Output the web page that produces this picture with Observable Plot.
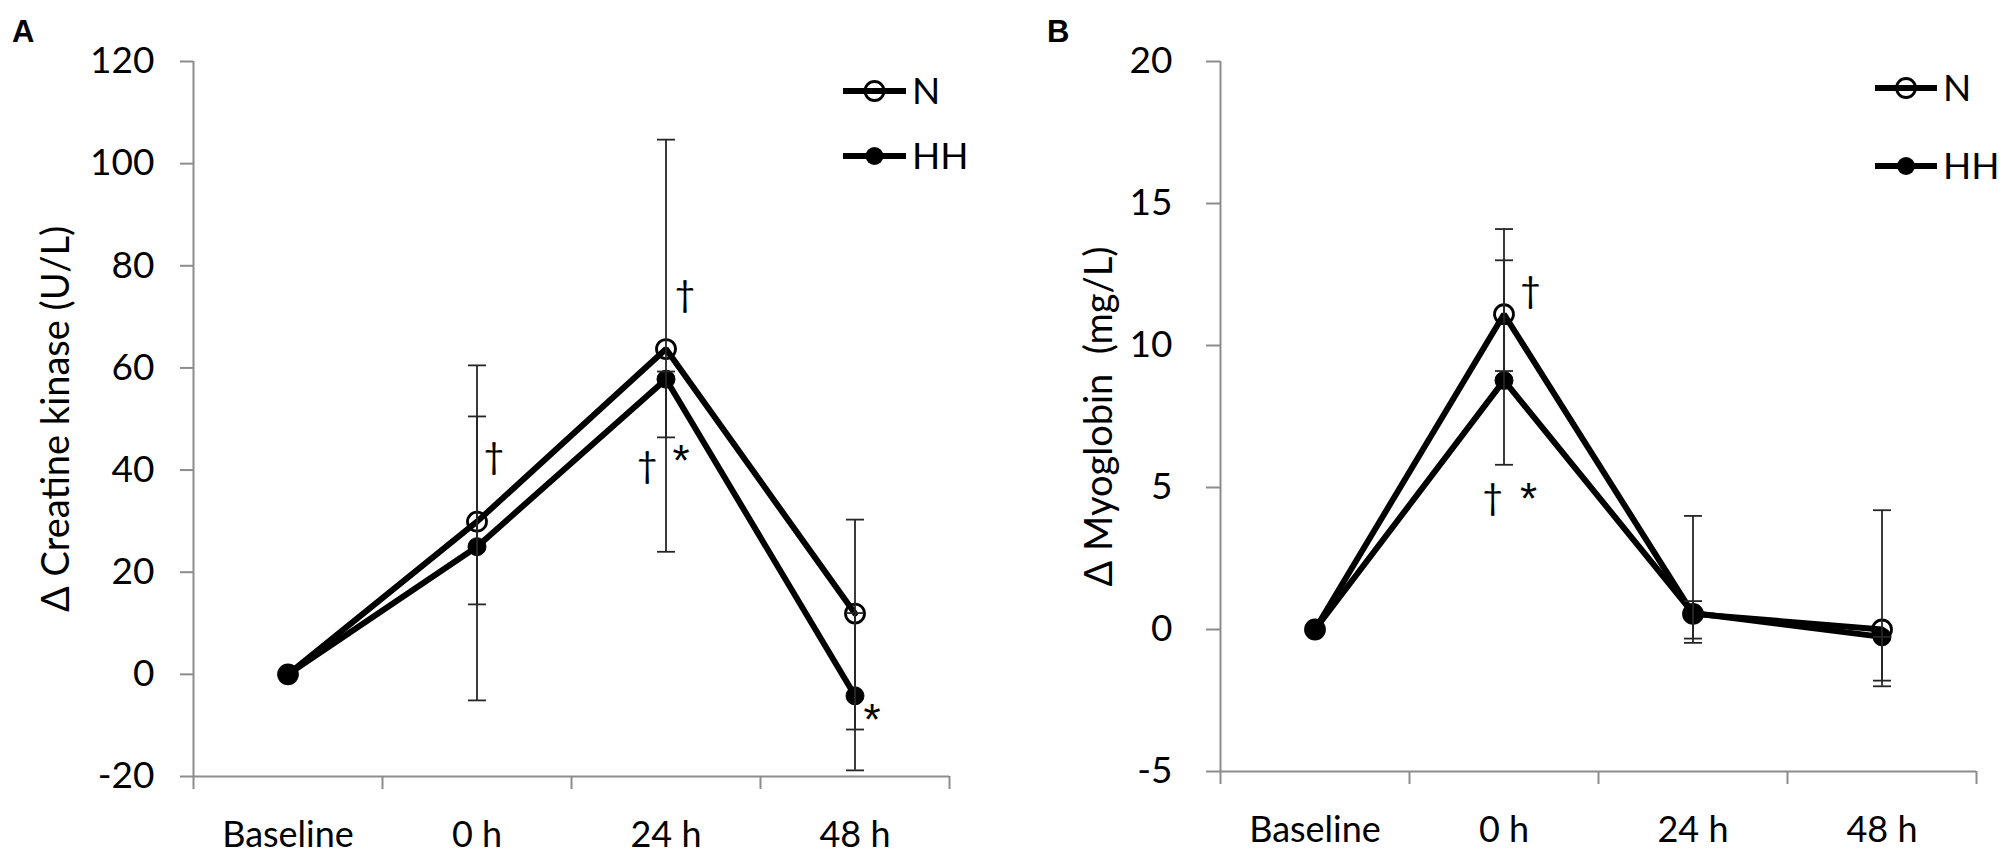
<!DOCTYPE html>
<html>
<head>
<meta charset="utf-8">
<script src="https://cdn.jsdelivr.net/npm/d3@7"></script>
<script src="https://cdn.jsdelivr.net/npm/@observablehq/plot@0.6"></script>
<style>
  html, body { margin: 0; padding: 0; background: #fff; }
  #wrap { display: flex; width: 2000px; height: 858px; }
</style>
</head>
<body>
<div id="wrap"></div>
<script>
// ---------- data ----------
const categories = ["Baseline", "0 h", "24 h", "48 h"];
const groups = ["N", "HH"];

// Panel A: Δ Creatine kinase (U/L)
const ckN = [0, 29.9, 63.7, 11.9];
const ckHH = [0, 25.0, 57.8, -4.2];
const ckNLow = [null, 13.7, 24.0, -10.8];
const ckNHigh = [null, 60.5, 104.7, 30.3];
const ckHHLow = [null, -5.1, 46.4, -18.8];
const ckHHHigh = [null, 50.5, 59.3, 12.0];
const ckTicks = [-20, 0, 20, 40, 60, 80, 100, 120];
const ckSig = [
  {label: "†", t: 1.09, v: 42.5},
  {label: "†", t: 2.10, v: 74.1},
  {label: "†", t: 1.90, v: 40.8},
  {label: "*", t: 2.08, v: 43.7},
  {label: "*", t: 3.09, v: -7.0}
];

// Panel B: Δ Myoglobin (mg/L)
const mbN = [0, 11.1, 0.55, 0.0];
const mbHH = [0, 8.77, 0.58, -0.26];
const mbNLow = [null, 9.1, -0.47, -2.0];
const mbNHigh = [null, 14.1, 4.0, 4.2];
const mbHHLow = [null, 5.8, -0.32, -1.8];
const mbHHHigh = [null, 13.0, 1.0, -0.26];
const mbTicks = [-5, 0, 5, 10, 15, 20];
const mbSig = [
  {label: "†", t: 1.14, v: 11.9},
  {label: "†", t: 0.94, v: 4.6},
  {label: "*", t: 1.13, v: 4.96}
];

// ---------- helpers ----------
const FONT = "Lato, 'Open Sans', sans-serif";
const capSymbol = {draw(ctx) { ctx.moveTo(-9, 0); ctx.lineTo(9, 0); }};

function rows(n, hh) {
  return categories.flatMap((c, i) => [
    {t: i, v: n[i], g: "N"},
    {t: i, v: hh[i], g: "HH"}
  ]);
}
function errRows(nl, nh, hl, hh) {
  const out = [];
  categories.forEach((c, i) => {
    if (nl[i] != null) out.push({t: i, lo: nl[i], hi: nh[i]});
    if (hl[i] != null) out.push({t: i, lo: hl[i], hi: hh[i]});
  });
  return out;
}

function panel(cfg) {
  const pts = rows(cfg.n, cfg.hh);
  const errs = errRows(cfg.nl, cfg.nh, cfg.hl, cfg.hhh);
  const yMin = cfg.ticks[0], yMax = cfg.ticks[cfg.ticks.length - 1];
  const axisGray = "#8c8c8c";
  const svg = Plot.plot({
    width: 1000,
    height: 858,
    marginLeft: cfg.ml,
    marginRight: cfg.mr,
    marginTop: cfg.mt,
    marginBottom: cfg.mb,
    style: {fontFamily: FONT, background: "white", color: "black", overflow: "visible"},
    x: {type: "linear", domain: [-0.5, categories.length - 0.5], axis: null},
    y: {domain: [yMin, yMax], axis: null},
    marks: [
      // axes lines
      Plot.ruleX([-0.5], {y1: yMin, y2: yMax, stroke: axisGray, strokeWidth: 2}),
      Plot.ruleY([yMin], {stroke: axisGray, strokeWidth: 2}),
      Plot.axisY({ticks: cfg.ticks, label: null, tickSize: cfg.tickSize, tickPadding: cfg.tickPad, stroke: axisGray, strokeWidth: 2, fill: "black", fontSize: 37, tickFormat: d => String(d)}),
      Plot.axisX({ticks: d3.range(categories.length + 1).map(i => i - 0.5), label: null, tickSize: 13, stroke: axisGray, strokeWidth: 2, tickFormat: () => ""}),
      Plot.axisX({ticks: d3.range(categories.length), label: null, tickSize: 0, tickPadding: 45, fill: "black", fontSize: 36, tickFormat: i => categories[i]}),
      // y title
      Plot.text([cfg.title], {frameAnchor: "left", rotate: -90, dx: cfg.titleDx, fontSize: 38, textAnchor: "middle", lineAnchor: "middle", text: d => d, fill: "black"}),
      // series lines
      Plot.line(pts, {x: "t", y: "v", z: "g", stroke: "black", strokeWidth: 6, strokeLinejoin: "miter"}),
      // markers
      Plot.dot(pts.filter(d => d.g === "HH"), {x: "t", y: "v", r: 9, fill: "black", stroke: "black", strokeWidth: 1}),
      Plot.dot(pts.filter(d => d.g === "N"), {x: "t", y: "v", r: 9.5, fill: "none", stroke: "black", strokeWidth: 2.8}),
      // error bars
      Plot.ruleX(errs, {x: "t", y1: "lo", y2: "hi", stroke: "#262626", strokeWidth: 1.8}),
      Plot.dot(errs, {x: "t", y: "lo", symbol: capSymbol, stroke: "#262626", strokeWidth: 1.8, fill: "none"}),
      Plot.dot(errs, {x: "t", y: "hi", symbol: capSymbol, stroke: "#262626", strokeWidth: 1.8, fill: "none"}),
      // significance symbols
      Plot.text(cfg.sig.filter(d => d.label === "†"), {x: "t", y: "v", text: "label", fontSize: 36, lineAnchor: "middle", textAnchor: "middle", fill: "black"}),
      Plot.text(cfg.sig.filter(d => d.label === "*"), {x: "t", y: "v", text: "label", fontFamily: "'Liberation Sans', Arial, sans-serif", fontSize: 44, lineAnchor: "middle", textAnchor: "middle", dy: 11, fill: "black"})
    ]
  });

  // legend & panel letter
  const s = d3.select(svg);
  const lg = s.append("g").attr("font-family", FONT).attr("font-size", 37).attr("text-anchor", "start");
  groups.forEach((g, i) => {
    const y = cfg.legY[i];
    lg.append("line").attr("x1", cfg.legX0).attr("x2", cfg.legX1).attr("y1", y).attr("y2", y)
      .attr("stroke", "black").attr("stroke-width", 6);
    const cx = (cfg.legX0 + cfg.legX1) / 2;
    if (g === "N") {
      lg.append("circle").attr("cx", cx).attr("cy", y).attr("r", 9.5).attr("fill", "none").attr("stroke", "black").attr("stroke-width", 2.8);
    } else {
      lg.append("circle").attr("cx", cx).attr("cy", y).attr("r", 9).attr("fill", "black");
    }
    lg.append("text").attr("x", cfg.legX1 + 6).attr("y", y).attr("dy", "0.36em").attr("fill", "black").text(g);
  });
  s.append("text").attr("x", cfg.letterX).attr("y", 42).attr("text-anchor", "start").attr("font-family", "'Liberation Sans', Arial, sans-serif")
    .attr("font-weight", "bold").attr("font-size", 31).attr("fill", "black").text(cfg.letter);
  return svg;
}

const wrap = document.getElementById("wrap");
wrap.append(panel({
  n: ckN, hh: ckHH, nl: ckNLow, nh: ckNHigh, hl: ckHHLow, hhh: ckHHHigh,
  ticks: ckTicks, sig: ckSig, title: "Δ Creatine kinase (U/L)",
  ml: 193, mr: 51, mt: 61, mb: 82, tickSize: 13, tickPad: 26, titleDx: -137,
  legX0: 843, legX1: 906, legY: [91, 156], letter: "A", letterX: 12
}));
wrap.append(panel({
  n: mbN, hh: mbHH, nl: mbNLow, nh: mbNHigh, hl: mbHHLow, hhh: mbHHHigh,
  ticks: mbTicks, sig: mbSig, title: "Δ Myoglobin\u00A0\u00A0(mg/L)",
  ml: 220, mr: 24, mt: 61, mb: 87, tickSize: 14, tickPad: 34, titleDx: -121,
  legX0: 875, legX1: 937, legY: [88, 166], letter: "B", letterX: 47
}));
</script>
</body>
</html>
